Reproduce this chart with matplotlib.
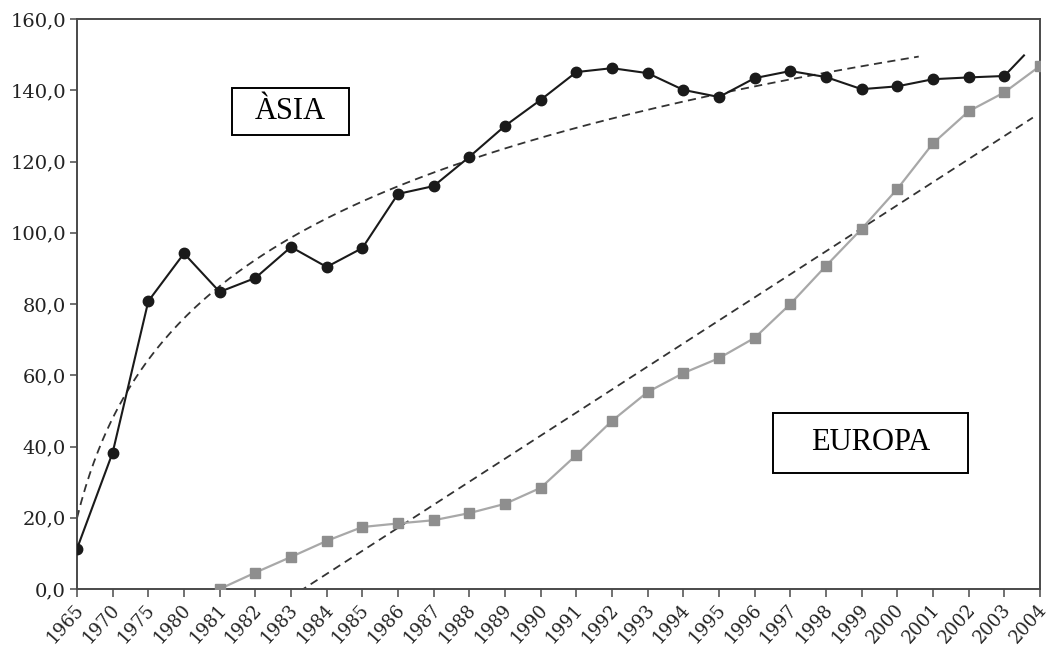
import numpy as np
import matplotlib

matplotlib.use("Agg")
import matplotlib.pyplot as plt
from matplotlib.patches import Rectangle
from matplotlib.transforms import ScaledTranslation

# categories on the x axis (evenly spaced, not proportional to time)
years = ["1965", "1970", "1975", "1980"] + [str(y) for y in range(1981, 2005)]

# Asia: one value per category up to 2003, plus the 2004 value the line heads to
asia = [11.3, 38.3, 80.8, 94.2, 83.4, 87.3, 96.0, 90.4, 95.7, 110.9,
        113.1, 121.3, 130.0, 137.3, 145.1, 146.2, 144.8, 140.1, 138.1, 143.4,
        145.4, 143.7, 140.3, 141.1, 143.1, 143.6, 144.0, 154.5]

# Europe starts in 1981
europa_years = [str(y) for y in range(1981, 2005)]
europa = [0.0, 4.6, 9.0, 13.5, 17.4, 18.4, 19.3, 21.3, 23.9, 28.4,
          37.6, 47.2, 55.3, 60.6, 64.8, 70.5, 80.0, 90.7, 101.1, 112.3,
          125.1, 134.1, 139.4, 146.8]

yticks = [0, 20, 40, 60, 80, 100, 120, 140, 160]

SERIF = "DejaVu Serif"
TEXT = "#222222"
SPINE = "#4a4a4a"

fig = plt.figure(figsize=(10.52, 6.52), dpi=100)
ax = fig.add_axes([77 / 1052, 63 / 652, 963 / 1052, 570 / 652])

pos = np.arange(len(years))
e_pos = np.array([years.index(y) for y in europa_years])

# Asia series: markers through 2003, line continues part way toward 2004
n_mark = len(asia) - 1
a_end = n_mark - 1 + 0.55
a_x = np.append(pos[:n_mark], a_end)
a_y = np.append(asia[:n_mark], np.interp(a_end, pos, asia))
ax.plot(a_x, a_y, color="#1a1a1a", lw=1.5, zorder=3)
ax.plot(pos[:n_mark], asia[:n_mark], ls="none", marker="o", ms=7.5,
        color="#1a1a1a", zorder=4)

# Europe series
ax.plot(e_pos, europa, color="#a8a8a8", lw=1.6, marker="s", ms=7,
        mfc="#8e8e8e", mec="#8e8e8e", zorder=3)

# logarithmic trend for Asia (x = 1..n as in a spreadsheet trendline)
t = pos[:n_mark] + 1.0
a_coef = np.polyfit(np.log(t), asia[:n_mark], 1)
tt = np.linspace(1, 24.6, 200)
ax.plot(tt - 1, np.polyval(a_coef, np.log(tt)), color="#333333", lw=1.3,
        ls=(0, (4.5, 3)), zorder=2)

# linear trend for Europe
e_coef = np.polyfit(e_pos, europa, 1)
ex = np.linspace(e_pos[0], 26.8, 100)
ax.plot(ex, np.polyval(e_coef, ex), color="#333333", lw=1.3,
        ls=(0, (4.5, 3)), zorder=2)

ax.set_xlim(0, len(years) - 1)
ax.set_ylim(0, 160)
ax.set_xticks(pos)
ax.set_xticklabels(years, rotation=48, ha="right", va="top",
                   rotation_mode="anchor", family=SERIF, fontsize=13,
                   color=TEXT)
ax.set_yticks(yticks)
ax.set_yticklabels([f"{v:.1f}".replace(".", ",") for v in yticks],
                   family=SERIF, fontsize=14, color=TEXT)
ax.tick_params(axis="both", direction="out", color=SPINE, width=1.1)
ax.tick_params(axis="y", length=5, pad=3)
ax.tick_params(axis="x", length=6, pad=2.5)
shift = ScaledTranslation(-3 / 100, 0, fig.dpi_scale_trans)
for lab in ax.get_xticklabels():
    lab.set_transform(lab.get_transform() + shift)
for s in ax.spines.values():
    s.set_color(SPINE)
    s.set_linewidth(1.4)

# region labels in boxes
for x0, x1, y0, y1, txt in [(0.161, 0.2825, 0.7965, 0.879, "ÀSIA"),
                            (0.7227, 0.925, 0.2035, 0.3088, "EUROPA")]:
    ax.add_patch(Rectangle((x0, y0), x1 - x0, y1 - y0, transform=ax.transAxes,
                           fill=True, fc="white", ec="black", lw=1.4, zorder=5))
    ax.text((x0 + x1) / 2, (y0 + y1) / 2, txt, transform=ax.transAxes,
            ha="center", va="center", family="Liberation Serif", fontsize=22,
            color="black", zorder=6)

fig.savefig("out.png", dpi=100)
